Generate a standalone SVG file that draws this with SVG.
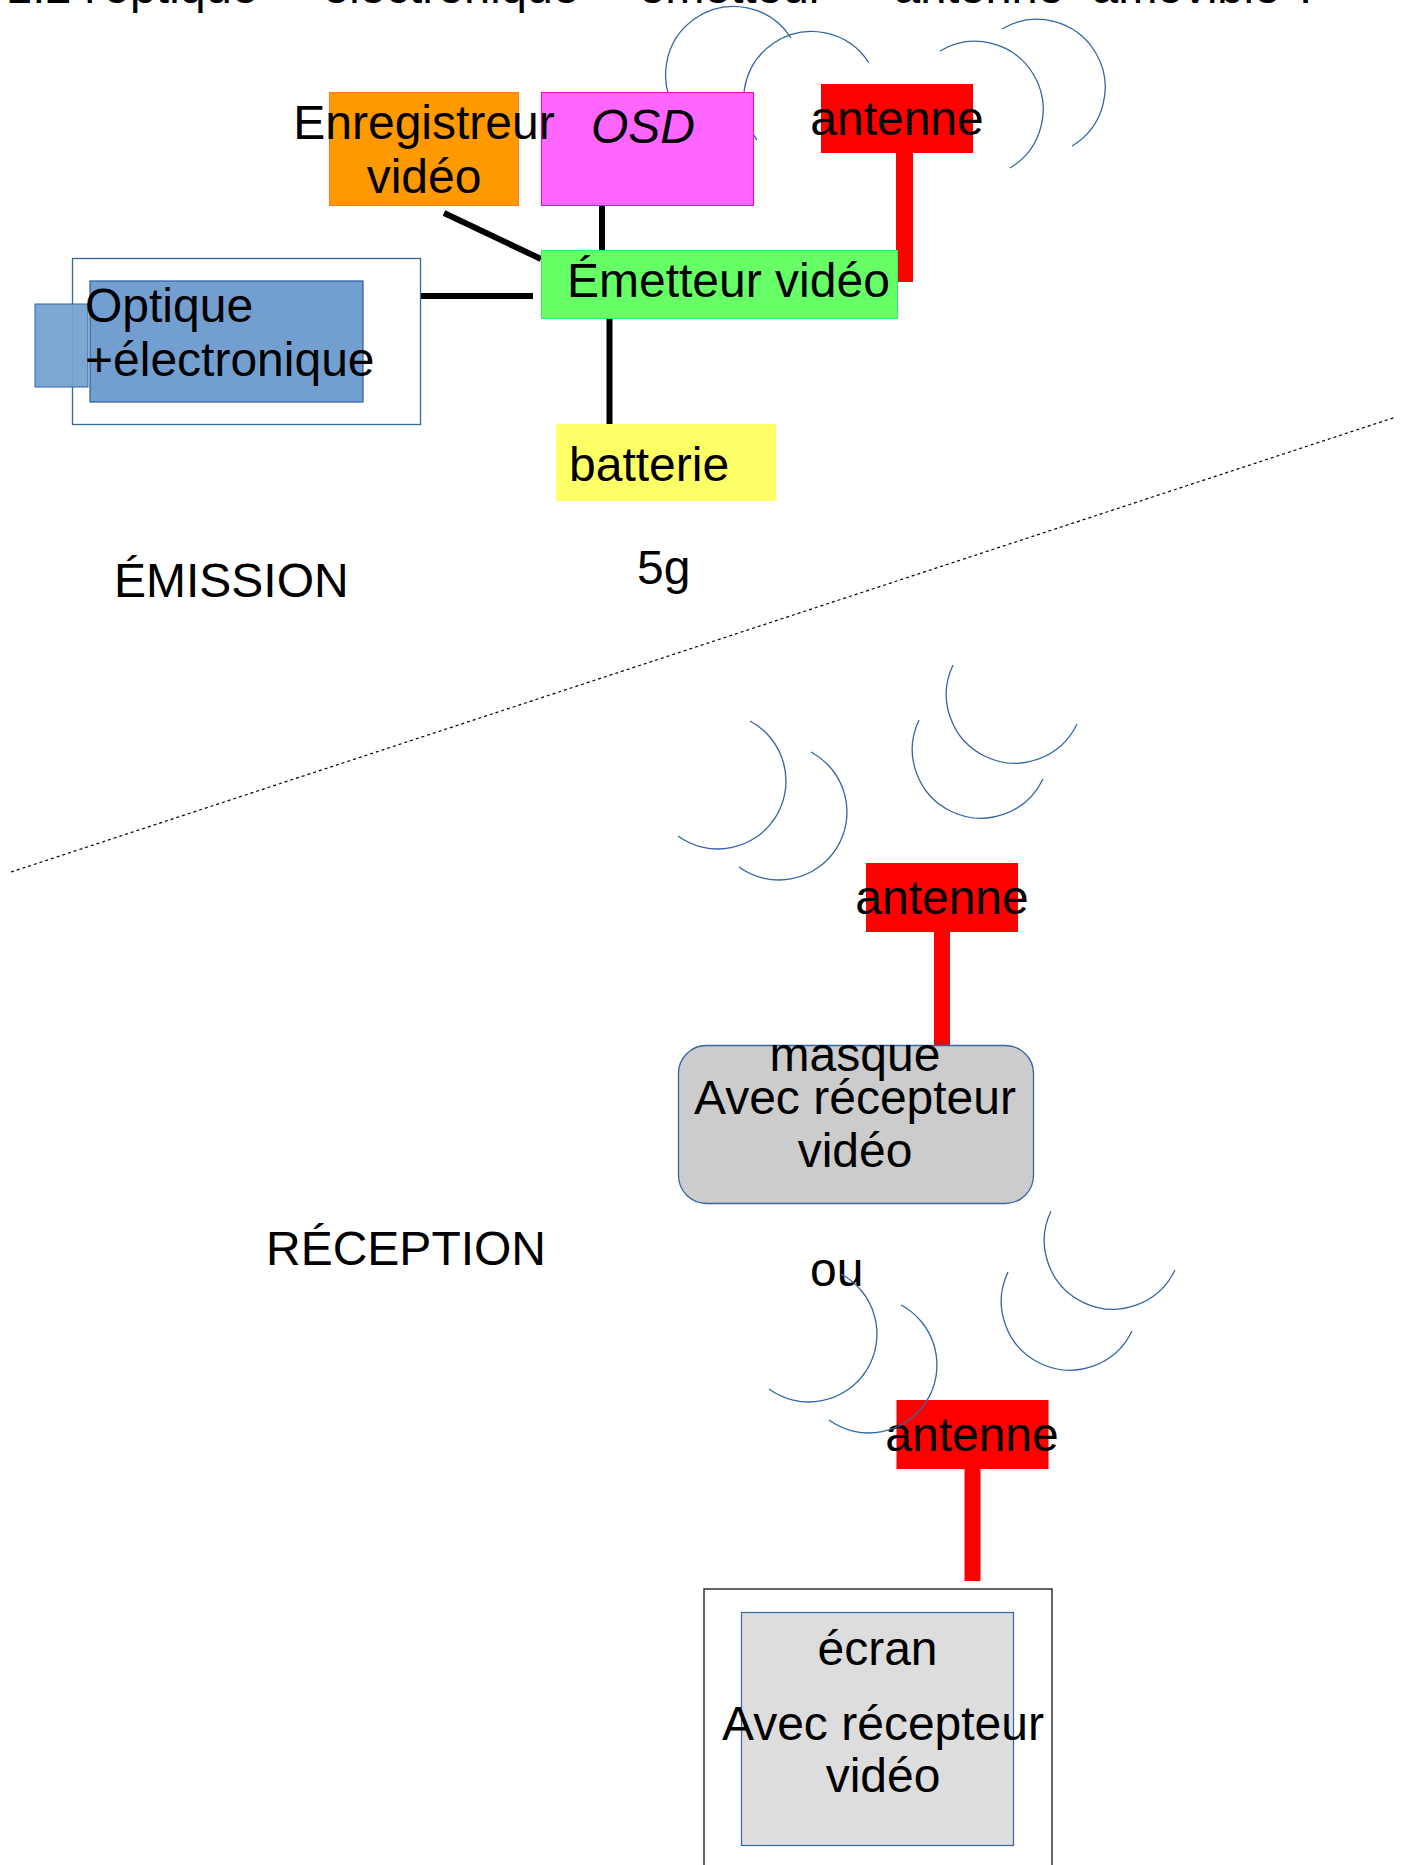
<svg xmlns="http://www.w3.org/2000/svg" width="1409" height="1865" viewBox="0 0 1409 1865">
<style>
text{font-family:"Liberation Sans",Arial,sans-serif;font-size:48px;fill:#000}
.title{font-size:47px}
.mid{text-anchor:middle}
.arc{fill:none;stroke:#3465a4;stroke-width:1.3}
.link{stroke:#000;stroke-width:6;fill:none}
.ant{fill:#ff0000}
</style>
<rect x="0" y="0" width="1409" height="1865" fill="#fff"/>
<text class="title" y="3"><tspan x="6">1.2 l'optique +</tspan><tspan x="323">électronique +</tspan><tspan x="639">émetteur +</tspan><tspan x="894">antenne</tspan><tspan x="1092">amovible ?</tspan></text>
<line x1="11" y1="872" x2="1396" y2="417" stroke="#000" stroke-width="1.2" stroke-dasharray="3,3"/>
<g id="waves-emission">
<path class="arc" d="M679,115 A68,68 0 1 1 791,38"/>
<path class="arc" d="M757,140 A68,68 0 1 1 869,63"/>
<path class="arc" d="M940,51 A68,68 0 1 1 1010,168"/>
<path class="arc" d="M1002,29 A68,68 0 1 1 1072,146"/>
</g>
<g id="connectors">
<line class="link" x1="444" y1="213" x2="541" y2="259"/>
<line class="link" x1="602" y1="206" x2="602" y2="251" stroke-width="5"/>
<line class="link" x1="421" y1="296" x2="533" y2="296"/>
<line class="link" x1="609.5" y1="319" x2="609.5" y2="425"/>
</g>
<g id="optique">
<rect x="72.5" y="258.5" width="348" height="166" fill="#fff" stroke="#3465a4" stroke-width="1.3"/>
<rect x="35" y="304" width="53" height="83" fill="#729fcf" fill-opacity="0.92" stroke="#3465a4" stroke-width="1"/>
<rect x="90" y="281" width="273" height="121" fill="#729fcf" stroke="#3465a4" stroke-width="1.3"/>
<text x="85" y="322">Optique</text>
<text x="85" y="376">+électronique</text>
</g>
<g id="osd">
<rect x="541.5" y="92.5" width="212" height="113" fill="#ff66ff" stroke="#ff00cc" stroke-width="1"/>
<text x="591" y="143" font-style="italic">OSD</text>
</g>
<g id="enregistreur">
<rect x="329.5" y="92.5" width="189" height="113" fill="#ff9900" stroke="#ff7a1a" stroke-width="1"/>
<text class="mid" x="424" y="139">Enregistreur</text>
<text class="mid" x="424" y="193">vidéo</text>
</g>
<g id="antenne-emission">
<rect class="ant" x="821" y="84" width="152" height="69"/>
<rect class="ant" x="896" y="153" width="17" height="129"/>
<text class="mid" x="897" y="135">antenne</text>
</g>
<g id="emetteur">
<rect x="541.5" y="250.5" width="356" height="68" fill="#66ff66" stroke="#33ee66" stroke-width="1"/>
<text x="567" y="297" font-size="52">Émetteur vidéo</text>
</g>
<g id="batterie">
<rect x="556" y="424" width="220" height="77" fill="#ffff66"/>
<text x="569" y="481">batterie</text>
</g>
<text id="emission" x="114" y="597">ÉMISSION</text>
<text id="poids" x="637" y="584">5g</text>
<g id="antenne-masque">
<rect class="ant" x="866" y="863" width="152" height="69"/>
<rect class="ant" x="934" y="932" width="16" height="113"/>
<text class="mid" x="942" y="914">antenne</text>
</g>
<g id="masque">
<rect x="678.5" y="1045.5" width="355" height="158" rx="28" ry="28" fill="#cccccc" stroke="#3465a4" stroke-width="1.3"/>
<text class="mid" x="855" y="1071">masque</text>
<text class="mid" x="855" y="1114">Avec récepteur</text>
<text class="mid" x="855" y="1167">vidéo</text>
</g>
<text id="reception" x="266" y="1265">RÉCEPTION</text>
<text id="ou" x="810" y="1286">ou</text>
<g id="antenne-ecran">
<rect class="ant" x="896.5" y="1400" width="152" height="69"/>
<rect class="ant" x="964.5" y="1469" width="16" height="112"/>
<text class="mid" x="972" y="1451">antenne</text>
</g>
<g id="ecran">
<rect x="704" y="1589" width="348" height="300" fill="#fff" stroke="#333" stroke-width="1.5"/>
<rect x="741.5" y="1612.5" width="272" height="233" fill="#dddddd" stroke="#3465a4" stroke-width="1.2"/>
<text class="mid" x="877.5" y="1665">écran</text>
<text class="mid" x="883" y="1740">Avec récepteur</text>
<text class="mid" x="883" y="1792">vidéo</text>
</g>
<g id="waves-reception">
<path class="arc" d="M750,721 A68,68 0 1 1 678,836"/>
<path class="arc" d="M811,752 A68,68 0 1 1 739,867"/>
<path class="arc" d="M919,720 A68,68 0 1 0 1043,779"/>
<path class="arc" d="M953,665 A68,68 0 1 0 1077,724"/>
<path class="arc" d="M841,1274 A68,68 0 1 1 769,1389"/>
<path class="arc" d="M901,1305 A68,68 0 1 1 829,1420"/>
<path class="arc" d="M1008,1272 A68,68 0 1 0 1132,1331"/>
<path class="arc" d="M1051,1211 A68,68 0 1 0 1175,1270"/>
</g>
</svg>
